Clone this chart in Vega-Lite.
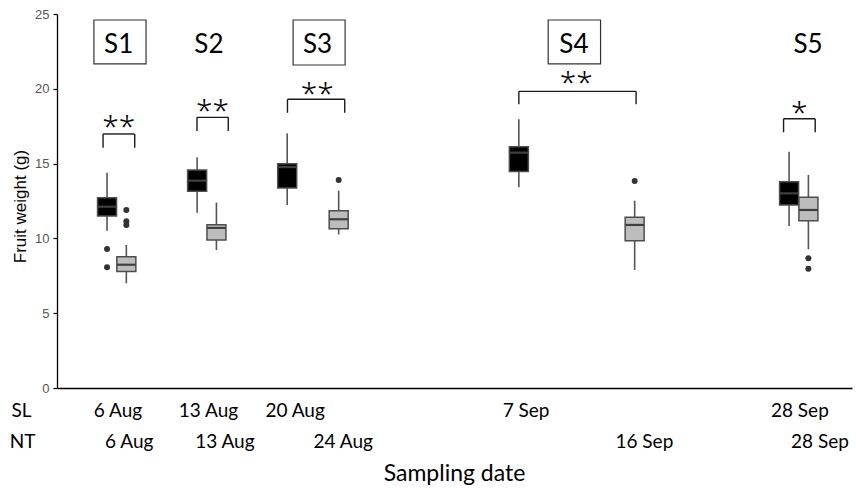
{
  "$schema": "https://vega.github.io/schema/vega-lite/v6.json",
  "width": 795,
  "height": 374,
  "autosize": {"type": "none"},
  "padding": {"left": 57, "top": 14, "right": 4, "bottom": 102},
  "background": "white",
  "config": {
    "view": {"stroke": null},
    "axis": {"grid": false},
    "axisY": {
      "labelFont": "Liberation Sans", "labelFontSize": 13, "labelColor": "#555555", "labelPadding": 4,
      "tickColor": "#000000", "tickSize": 4, "tickWidth": 1.2, "domainColor": "#000000", "domainWidth": 1.3,
      "titleFont": "Liberation Sans", "titleFontSize": 17, "titleFontWeight": "normal", "titleColor": "#000000",
      "titleAngle": -90, "titleX": -37, "titleY": 192, "titleAlign": "center", "titleBaseline": "middle", "grid": false
    }
  },
  "title": {"text": "Sampling date", "orient": "bottom", "font": "Lato", "fontSize": 23, "fontWeight": "normal", "color": "#000000", "offset": 12, "anchor": "middle"},
  "datasets": {
    "boxes": [
      {"g": "SL", "pos": 6, "lo": 10.51, "q1": 11.5, "med": 12.12, "q3": 12.72, "hi": 14.39},
      {"g": "SL", "pos": 13, "lo": 11.72, "q1": 13.15, "med": 13.86, "q3": 14.57, "hi": 15.42},
      {"g": "SL", "pos": 20, "lo": 12.23, "q1": 13.37, "med": 14.77, "q3": 14.99, "hi": 17.02},
      {"g": "SL", "pos": 38, "lo": 13.42, "q1": 14.48, "med": 15.73, "q3": 16.13, "hi": 17.96},
      {"g": "SL", "pos": 59, "lo": 10.83, "q1": 12.23, "med": 13.01, "q3": 13.79, "hi": 15.8},
      {"g": "NT", "pos": 7.5, "lo": 7.0, "q1": 7.78, "med": 8.24, "q3": 8.78, "hi": 9.56},
      {"g": "NT", "pos": 14.5, "lo": 9.22, "q1": 9.89, "med": 10.7, "q3": 10.92, "hi": 12.39},
      {"g": "NT", "pos": 24, "lo": 10.27, "q1": 10.65, "med": 11.28, "q3": 11.85, "hi": 13.19},
      {"g": "NT", "pos": 47, "lo": 7.89, "q1": 9.85, "med": 10.9, "q3": 11.41, "hi": 12.52},
      {"g": "NT", "pos": 60.5, "lo": 9.27, "q1": 11.18, "med": 11.9, "q3": 12.75, "hi": 14.24}
    ],
    "outliers": [
      {"g": "SL", "pos": 6, "v": 9.29},
      {"g": "SL", "pos": 6, "v": 8.07},
      {"g": "NT", "pos": 7.5, "v": 11.9},
      {"g": "NT", "pos": 7.5, "v": 11.15},
      {"g": "NT", "pos": 7.5, "v": 10.9},
      {"g": "NT", "pos": 24, "v": 13.9},
      {"g": "NT", "pos": 47, "v": 13.84},
      {"g": "NT", "pos": 60.5, "v": 8.67},
      {"g": "NT", "pos": 60.5, "v": 7.97}
    ],
    "brackets": [
      {"x1": 5.69, "x2": 8.15, "top": 16.98, "bot": 16.06, "sx": 6.91, "sy": 17.71, "stars": "**"},
      {"x1": 12.99, "x2": 15.42, "top": 18.09, "bot": 17.18, "sx": 14.19, "sy": 18.8, "stars": "**"},
      {"x1": 20.02, "x2": 24.47, "top": 19.3, "bot": 18.4, "sx": 22.33, "sy": 19.92, "stars": "**"},
      {"x1": 38.0, "x2": 47.11, "top": 19.83, "bot": 18.96, "sx": 42.47, "sy": 20.66, "stars": "**"},
      {"x1": 58.57, "x2": 61.03, "top": 18.0, "bot": 17.09, "sx": 59.8, "sy": 18.63, "stars": "*"}
    ],
    "slabels": [
      {"label": "S1", "x": 6.9, "y": 22.93, "boxed": true, "bx1": 4.98, "bx2": 9.03, "by1": 24.6, "by2": 21.66},
      {"label": "S2", "x": 13.92, "y": 22.93, "boxed": false, "bx1": 0, "bx2": 0, "by1": 0, "by2": 0},
      {"label": "S3", "x": 22.36, "y": 22.93, "boxed": true, "bx1": 20.46, "bx2": 24.5, "by1": 24.6, "by2": 21.59},
      {"label": "S4", "x": 42.28, "y": 22.93, "boxed": true, "bx1": 40.28, "bx2": 44.35, "by1": 24.6, "by2": 21.66},
      {"label": "S5", "x": 60.47, "y": 22.93, "boxed": false, "bx1": 0, "bx2": 0, "by1": 0, "by2": 0}
    ]
  },
  "layer": [
    {
      "layer": [
        {
          "data": {"name": "boxes"},
          "mark": {"type": "rule", "color": "#555555", "strokeWidth": 1.6},
          "encoding": {
            "x": {"field": "pos", "type": "quantitative", "scale": {"domain": [2.5, 63.5], "nice": false, "zero": false},
              "axis": {"title": "SL", "values": [6.81, 13.84, 20.58, 38.52, 59.8],
                "labelExpr": "datum.value < 10 ? '6 Aug' : datum.value < 17 ? '13 Aug' : datum.value < 30 ? '20 Aug' : datum.value < 50 ? '7 Sep' : '28 Sep'",
                "ticks": false, "domain": true, "domainColor": "#000000", "domainWidth": 1.4,
                "labelFont": "Lato", "labelFontSize": 19, "labelColor": "#000000", "labelPadding": 22, "labelBaseline": "middle",
                "labelOverlap": false, "labelFlush": false, "labelBound": false,
                "titleFont": "Lato", "titleFontSize": 19, "titleFontWeight": "normal", "titleColor": "#000000",
                "titleX": -36, "titleY": 22, "titleAlign": "center", "titleBaseline": "middle", "titleAngle": 0, "grid": false}},
            "y": {"field": "lo", "type": "quantitative", "scale": {"domain": [0, 25], "nice": false},
              "axis": {"title": "Fruit weight (g)", "values": [0, 5, 10, 15, 20, 25],
                "labelFont": "Liberation Sans", "labelFontSize": 13, "labelColor": "#555555", "labelPadding": 4,
                "tickColor": "#000000", "tickSize": 4, "tickWidth": 1.2, "domainColor": "#000000", "domainWidth": 1.3,
                "titleFont": "Liberation Sans", "titleFontSize": 17, "titleFontWeight": "normal", "titleColor": "#000000",
                "titleAngle": -90, "titleX": -37, "titleY": 192, "titleAlign": "center", "titleBaseline": "middle", "grid": false}},
            "y2": {"field": "hi"}
          }
        },
        {
          "data": {"name": "boxes"},
          "mark": {"type": "bar", "width": 19, "stroke": "#4d4d4d", "strokeWidth": 1.5},
          "encoding": {
            "x": {"field": "pos", "type": "quantitative", "axis": {"title": "SL"}},
            "y": {"field": "q1", "type": "quantitative", "axis": {"title": "Fruit weight (g)"}},
            "y2": {"field": "q3"},
            "color": {"field": "g", "type": "nominal", "scale": {"domain": ["SL", "NT"], "range": ["#000000", "#bdbdbd"]}, "legend": null}
          }
        },
        {
          "data": {"name": "boxes"},
          "mark": {"type": "tick", "orient": "horizontal", "size": 19, "thickness": 2.2, "color": "#404040", "opacity": 1},
          "encoding": {
            "x": {"field": "pos", "type": "quantitative", "axis": {"title": "SL"}},
            "y": {"field": "med", "type": "quantitative", "axis": {"title": "Fruit weight (g)"}}
          }
        },
        {
          "data": {"name": "outliers"},
          "mark": {"type": "point", "filled": true, "color": "#333333", "size": 36, "opacity": 1},
          "encoding": {
            "x": {"field": "pos", "type": "quantitative", "axis": {"title": "SL"}},
            "y": {"field": "v", "type": "quantitative", "axis": {"title": "Fruit weight (g)"}}
          }
        },
        {
          "data": {"name": "brackets"},
          "mark": {"type": "rule", "color": "#1a1a1a", "strokeWidth": 1.4},
          "encoding": {
            "x": {"field": "x1", "type": "quantitative", "axis": {"title": "SL"}},
            "x2": {"field": "x2"},
            "y": {"field": "top", "type": "quantitative", "axis": {"title": "Fruit weight (g)"}}
          }
        },
        {
          "data": {"name": "brackets"},
          "mark": {"type": "rule", "color": "#1a1a1a", "strokeWidth": 1.4},
          "encoding": {
            "x": {"field": "x1", "type": "quantitative", "axis": {"title": "SL"}},
            "y": {"field": "top", "type": "quantitative", "axis": {"title": "Fruit weight (g)"}},
            "y2": {"field": "bot"}
          }
        },
        {
          "data": {"name": "brackets"},
          "mark": {"type": "rule", "color": "#1a1a1a", "strokeWidth": 1.4},
          "encoding": {
            "x": {"field": "x2", "type": "quantitative", "axis": {"title": "SL"}},
            "y": {"field": "top", "type": "quantitative", "axis": {"title": "Fruit weight (g)"}},
            "y2": {"field": "bot"}
          }
        },
        {
          "data": {"name": "brackets"},
          "mark": {"type": "text", "font": "Noto Sans", "fontSize": 30, "fontWeight": 300, "baseline": "alphabetic", "align": "center", "dy": 14, "color": "#000000"},
          "encoding": {
            "x": {"field": "sx", "type": "quantitative", "axis": {"title": "SL"}},
            "y": {"field": "sy", "type": "quantitative", "axis": {"title": "Fruit weight (g)"}},
            "text": {"field": "stars"}
          }
        },
        {
          "data": {"name": "slabels"},
          "transform": [{"filter": "datum.boxed"}],
          "mark": {"type": "rect", "fill": "transparent", "stroke": "#333333", "strokeWidth": 1.2},
          "encoding": {
            "x": {"field": "bx1", "type": "quantitative", "axis": {"title": "SL"}},
            "x2": {"field": "bx2"},
            "y": {"field": "by1", "type": "quantitative", "axis": {"title": "Fruit weight (g)"}},
            "y2": {"field": "by2"}
          }
        },
        {
          "data": {"name": "slabels"},
          "mark": {"type": "text", "font": "Lato", "fontSize": 26, "baseline": "middle", "align": "center", "color": "#000000"},
          "encoding": {
            "x": {"field": "x", "type": "quantitative", "axis": {"title": "SL"}},
            "y": {"field": "y", "type": "quantitative", "axis": {"title": "Fruit weight (g)"}},
            "text": {"field": "label"}
          }
        }
      ]
    },
    {
      "data": {"name": "boxes"},
      "transform": [{"filter": "datum.g == 'NT'"}],
      "mark": {"type": "rule", "opacity": 0},
      "encoding": {
        "x": {"field": "pos", "type": "quantitative", "scale": {"domain": [2.5, 63.5], "nice": false, "zero": false},
          "axis": {"orient": "bottom", "title": "NT", "values": [8.0, 15.34, 24.42, 47.53, 61.0],
            "labelExpr": "datum.value < 10 ? '6 Aug' : datum.value < 20 ? '13 Aug' : datum.value < 30 ? '24 Aug' : datum.value < 55 ? '16 Sep' : '28 Sep'",
            "ticks": false, "domain": false,
            "labelFont": "Lato", "labelFontSize": 19, "labelColor": "#000000", "labelPadding": 53, "labelBaseline": "middle",
            "labelOverlap": false, "labelFlush": false, "labelBound": false,
            "titleFont": "Lato", "titleFontSize": 19, "titleFontWeight": "normal", "titleColor": "#000000",
            "titleX": -35, "titleY": 53, "titleAlign": "center", "titleBaseline": "middle", "titleAngle": 0, "grid": false}}
      }
    }
  ],
  "resolve": {"scale": {"x": "independent", "y": "independent"}}
}
